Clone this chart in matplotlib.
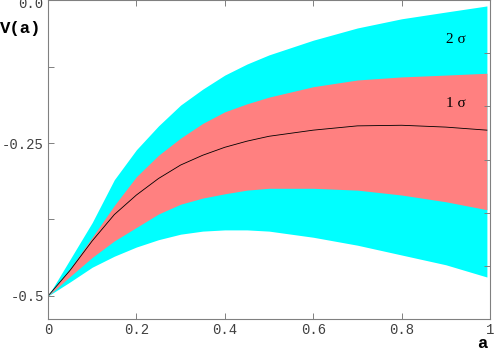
import matplotlib
matplotlib.use("Agg")
import matplotlib.pyplot as plt

# values
a = [0.0, 0.05, 0.1, 0.15, 0.2, 0.25, 0.3, 0.35, 0.4, 0.45, 0.5, 0.6, 0.7, 0.8, 0.9, 0.993]
upper2 = [-0.5, -0.44, -0.38, -0.31, -0.261, -0.222, -0.188, -0.162, -0.139, -0.121, -0.106,
          -0.082, -0.062, -0.047, -0.036, -0.026]
upper1 = [-0.5, -0.455, -0.404, -0.352, -0.305, -0.27, -0.242, -0.218, -0.199, -0.186, -0.175,
          -0.158, -0.147, -0.142, -0.139, -0.136]
center = [-0.5, -0.458, -0.41, -0.367, -0.335, -0.308, -0.286, -0.270, -0.257, -0.247, -0.239,
          -0.229, -0.222, -0.221, -0.224, -0.229]
lower1 = [-0.5, -0.468, -0.437, -0.41, -0.388, -0.366, -0.35, -0.34, -0.333, -0.327, -0.324,
          -0.324, -0.327, -0.335, -0.346, -0.359]
lower2 = [-0.5, -0.477, -0.453, -0.435, -0.42, -0.408, -0.399, -0.394, -0.392, -0.392, -0.394,
          -0.404, -0.417, -0.433, -0.449, -0.469]

xticks = [0, 0.2, 0.4, 0.6, 0.8, 1]
xticklabels = ["0", "0.2", "0.4", "0.6", "0.8", "1"]
yticks = [-0.5, -0.25]
yticklabels = ["-0.5", "-0.25"]
yminor = [-0.375, -0.125]

W, H = 496, 355
fig = plt.figure(figsize=(W / 100, H / 100), dpi=100)
ax = fig.add_axes([48 / W, 36 / H, 442 / W, 319 / H])

ax.fill_between(a, lower2, upper2, color="#00ffff", lw=0)
ax.fill_between(a, lower1, upper1, color="#ff8080", lw=0)
ax.plot(a, center, color="black", lw=0.6)

ax.set_xlim(0, 1)
ax.set_ylim(-0.5376, -0.0163)

mono = "Liberation Mono"
tc = "#404040"
ax.set_xticks(xticks)
ax.set_xticklabels(xticklabels, family=mono, fontsize=10, color=tc)
ax.set_yticks(yticks)
ax.set_yticklabels(yticklabels, family=mono, fontsize=10, color=tc)
ax.set_yticks(yminor, minor=True)
ax.tick_params(axis="x", direction="in", top=True, length=4, width=0.7, color="#808080", pad=3)
ax.tick_params(axis="y", which="both", direction="in", right=False, length=4, width=0.7, color="#808080", pad=3)

for s in ax.spines.values():
    s.set_color("#808080")
    s.set_linewidth(0.8)

# right frame ticks split the height in six
ax2 = ax.twinx()
ax2.set_ylim(0, 6)
ax2.set_yticks([1, 2, 3, 4, 5])
ax2.set_yticklabels([])
ax2.tick_params(axis="y", direction="in", length=4, width=0.7, color="#808080")
for s in ax2.spines.values():
    s.set_visible(False)

fig.text(43 / W, 1 - 4 / H, "0.0", family=mono, fontsize=10, color=tc, ha="right", va="center")
fig.text(0, 1 - 28 / H, "V(a)", family=mono, fontsize=12.5, weight="bold", ha="left", va="center")
fig.text(482 / W, 1 - 343 / H, "a", family=mono, fontsize=12.5, weight="bold", ha="center", va="center")

ax.text(0.923, 0.875, "2 σ", transform=ax.transAxes, family="Liberation Serif", fontsize=11, ha="center", va="center")
ax.text(0.923, 0.677, "1 σ", transform=ax.transAxes, family="Liberation Serif", fontsize=11, ha="center", va="center")

fig.savefig("out.png", dpi=100)
